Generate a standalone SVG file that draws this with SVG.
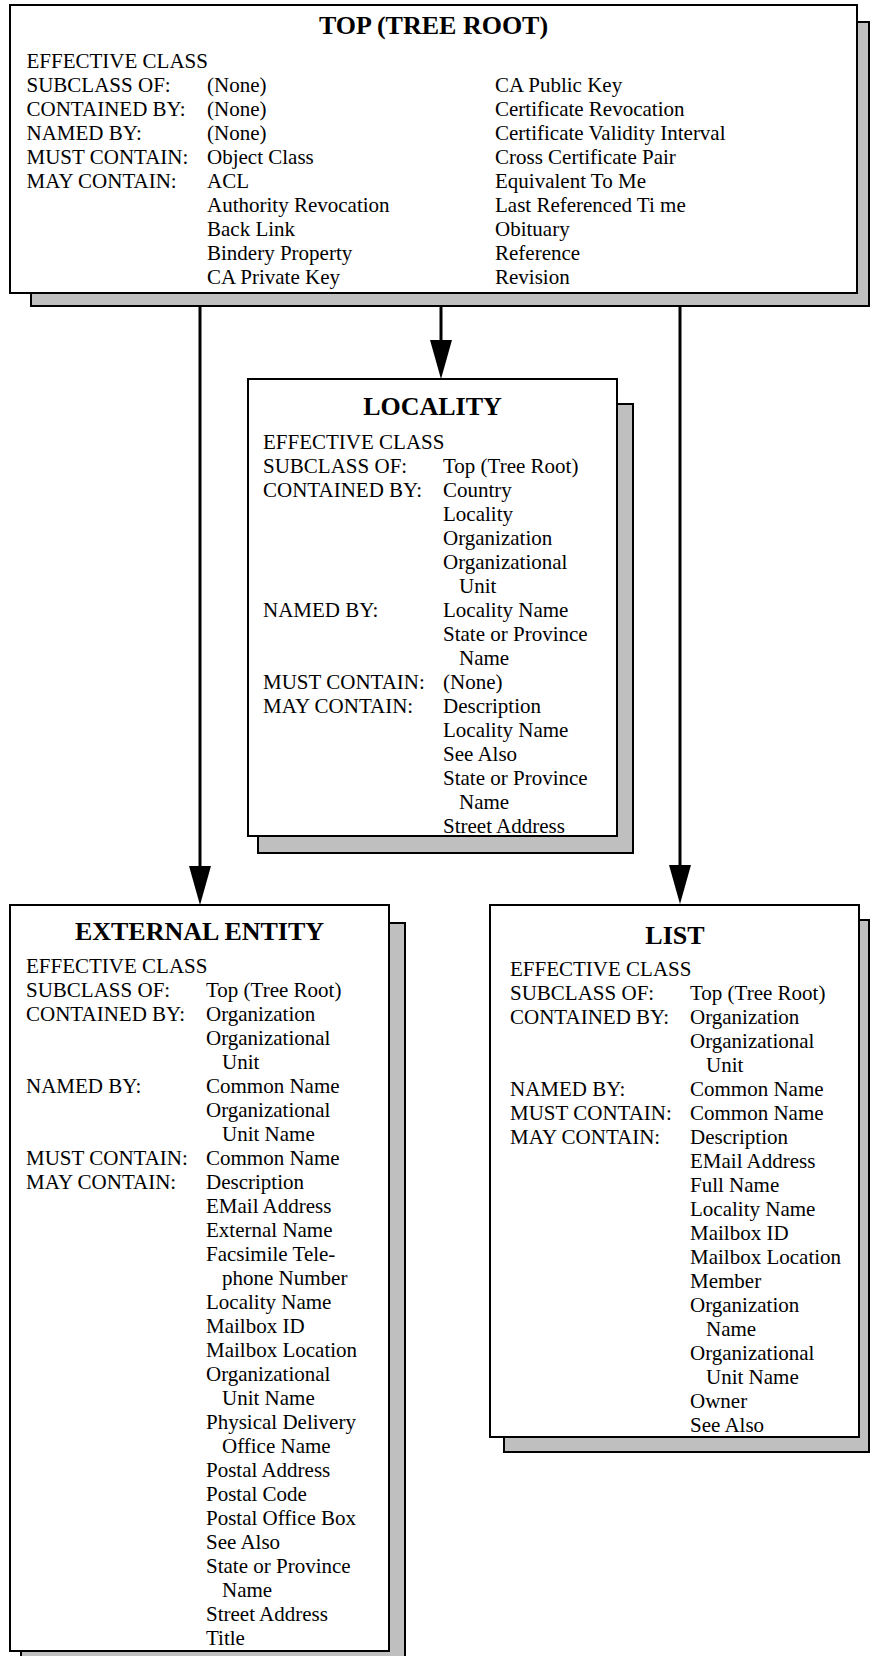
<svg xmlns="http://www.w3.org/2000/svg" width="872" height="1656" viewBox="0 0 872 1656">
<style>
.box{fill:#fff;stroke:#000;stroke-width:2}
.shadow{fill:#bfbfbf;stroke:#000;stroke-width:2}
.title{font-family:"Liberation Serif","Times New Roman",serif;font-size:26px;font-weight:bold;text-anchor:middle;fill:#000}
.t{font-family:"Liberation Serif","Times New Roman",serif;font-size:21px;fill:#000}
.conn{stroke:#000;stroke-width:3;fill:none}
</style>
<defs>
<marker id="arrow" markerUnits="userSpaceOnUse" markerWidth="39" markerHeight="22" viewBox="0 0 39 22" refX="0" refY="11" orient="auto">
<path d="M0,0 L39,11 L0,22 Z" fill="#000"/>
</marker>
</defs>
<rect width="872" height="1656" fill="#fff"/>

<g id="connectors">
<line class="conn" x1="200" y1="306" x2="200" y2="866" marker-end="url(#arrow)"/>
<line class="conn" x1="441" y1="306" x2="441" y2="340" marker-end="url(#arrow)"/>
<line class="conn" x1="680" y1="306" x2="680" y2="865" marker-end="url(#arrow)"/>
</g>

<g id="top">
<rect class="shadow" x="31" y="22" width="838" height="284"/>
<rect class="box" x="10" y="5" width="847" height="288"/>
<text class="title" x="433.5" y="34">TOP (TREE ROOT)</text>
<text class="t" x="26.5" y="68">EFFECTIVE CLASS</text>
<text class="t" x="26.5" y="92">SUBCLASS OF:</text>
<text class="t" x="26.5" y="116">CONTAINED BY:</text>
<text class="t" x="26.5" y="140">NAMED BY:</text>
<text class="t" x="26.5" y="164">MUST CONTAIN:</text>
<text class="t" x="26.5" y="188">MAY CONTAIN:</text>
<text class="t" x="207" y="92">(None)</text>
<text class="t" x="207" y="116">(None)</text>
<text class="t" x="207" y="140">(None)</text>
<text class="t" x="207" y="164">Object Class</text>
<text class="t" x="207" y="188">ACL</text>
<text class="t" x="207" y="212">Authority Revocation</text>
<text class="t" x="207" y="236">Back Link</text>
<text class="t" x="207" y="260">Bindery Property</text>
<text class="t" x="207" y="284">CA Private Key</text>
<text class="t" x="495" y="92">CA Public Key</text>
<text class="t" x="495" y="116">Certificate Revocation</text>
<text class="t" x="495" y="140">Certificate Validity Interval</text>
<text class="t" x="495" y="164">Cross Certificate Pair</text>
<text class="t" x="495" y="188">Equivalent To Me</text>
<text class="t" x="495" y="212">Last Referenced Ti me</text>
<text class="t" x="495" y="236">Obituary</text>
<text class="t" x="495" y="260">Reference</text>
<text class="t" x="495" y="284">Revision</text>
</g>

<g id="locality">
<rect class="shadow" x="258" y="404" width="375" height="449"/>
<rect class="box" x="248" y="379" width="369" height="457"/>
<text class="title" x="432.5" y="415">LOCALITY</text>
<text class="t" x="263" y="449">EFFECTIVE CLASS</text>
<text class="t" x="263" y="473">SUBCLASS OF:</text>
<text class="t" x="263" y="497">CONTAINED BY:</text>
<text class="t" x="263" y="617">NAMED BY:</text>
<text class="t" x="263" y="689">MUST CONTAIN:</text>
<text class="t" x="263" y="713">MAY CONTAIN:</text>
<text class="t" x="443" y="473">Top (Tree Root)</text>
<text class="t" x="443" y="497">Country</text>
<text class="t" x="443" y="521">Locality</text>
<text class="t" x="443" y="545">Organization</text>
<text class="t" x="443" y="569">Organizational</text>
<text class="t" x="459" y="593">Unit</text>
<text class="t" x="443" y="617">Locality Name</text>
<text class="t" x="443" y="641">State or Province</text>
<text class="t" x="459" y="665">Name</text>
<text class="t" x="443" y="689">(None)</text>
<text class="t" x="443" y="713">Description</text>
<text class="t" x="443" y="737">Locality Name</text>
<text class="t" x="443" y="761">See Also</text>
<text class="t" x="443" y="785">State or Province</text>
<text class="t" x="459" y="809">Name</text>
<text class="t" x="443" y="833">Street Address</text>
</g>

<g id="external-entity">
<rect class="shadow" x="21" y="923" width="384" height="740"/>
<rect class="box" x="10" y="905" width="379" height="746"/>
<text class="title" x="199.5" y="940">EXTERNAL ENTITY</text>
<text class="t" x="26" y="973">EFFECTIVE CLASS</text>
<text class="t" x="26" y="997">SUBCLASS OF:</text>
<text class="t" x="26" y="1021">CONTAINED BY:</text>
<text class="t" x="26" y="1093">NAMED BY:</text>
<text class="t" x="26" y="1165">MUST CONTAIN:</text>
<text class="t" x="26" y="1189">MAY CONTAIN:</text>
<text class="t" x="206" y="997">Top (Tree Root)</text>
<text class="t" x="206" y="1021">Organization</text>
<text class="t" x="206" y="1045">Organizational</text>
<text class="t" x="222" y="1069">Unit</text>
<text class="t" x="206" y="1093">Common Name</text>
<text class="t" x="206" y="1117">Organizational</text>
<text class="t" x="222" y="1141">Unit Name</text>
<text class="t" x="206" y="1165">Common Name</text>
<text class="t" x="206" y="1189">Description</text>
<text class="t" x="206" y="1213">EMail Address</text>
<text class="t" x="206" y="1237">External Name</text>
<text class="t" x="206" y="1261">Facsimile Tele-</text>
<text class="t" x="222" y="1285">phone Number</text>
<text class="t" x="206" y="1309">Locality Name</text>
<text class="t" x="206" y="1333">Mailbox ID</text>
<text class="t" x="206" y="1357">Mailbox Location</text>
<text class="t" x="206" y="1381">Organizational</text>
<text class="t" x="222" y="1405">Unit Name</text>
<text class="t" x="206" y="1429">Physical Delivery</text>
<text class="t" x="222" y="1453">Office Name</text>
<text class="t" x="206" y="1477">Postal Address</text>
<text class="t" x="206" y="1501">Postal Code</text>
<text class="t" x="206" y="1525">Postal Office Box</text>
<text class="t" x="206" y="1549">See Also</text>
<text class="t" x="206" y="1573">State or Province</text>
<text class="t" x="222" y="1597">Name</text>
<text class="t" x="206" y="1621">Street Address</text>
<text class="t" x="206" y="1645">Title</text>
</g>

<g id="list">
<rect class="shadow" x="504" y="920" width="365" height="532"/>
<rect class="box" x="490" y="905" width="369" height="532"/>
<text class="title" x="675" y="944">LIST</text>
<text class="t" x="510" y="976">EFFECTIVE CLASS</text>
<text class="t" x="510" y="1000">SUBCLASS OF:</text>
<text class="t" x="510" y="1024">CONTAINED BY:</text>
<text class="t" x="510" y="1096">NAMED BY:</text>
<text class="t" x="510" y="1120">MUST CONTAIN:</text>
<text class="t" x="510" y="1144">MAY CONTAIN:</text>
<text class="t" x="690" y="1000">Top (Tree Root)</text>
<text class="t" x="690" y="1024">Organization</text>
<text class="t" x="690" y="1048">Organizational</text>
<text class="t" x="706" y="1072">Unit</text>
<text class="t" x="690" y="1096">Common Name</text>
<text class="t" x="690" y="1120">Common Name</text>
<text class="t" x="690" y="1144">Description</text>
<text class="t" x="690" y="1168">EMail Address</text>
<text class="t" x="690" y="1192">Full Name</text>
<text class="t" x="690" y="1216">Locality Name</text>
<text class="t" x="690" y="1240">Mailbox ID</text>
<text class="t" x="690" y="1264">Mailbox Location</text>
<text class="t" x="690" y="1288">Member</text>
<text class="t" x="690" y="1312">Organization</text>
<text class="t" x="706" y="1336">Name</text>
<text class="t" x="690" y="1360">Organizational</text>
<text class="t" x="706" y="1384">Unit Name</text>
<text class="t" x="690" y="1408">Owner</text>
<text class="t" x="690" y="1432">See Also</text>
</g>
</svg>
